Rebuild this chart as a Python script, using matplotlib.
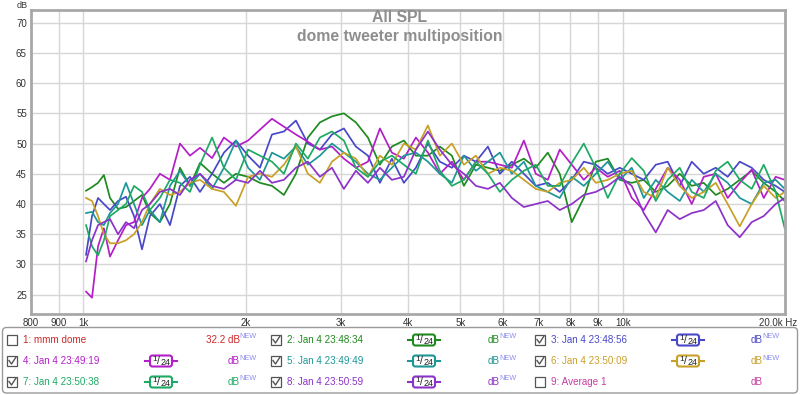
import numpy as np
import matplotlib.pyplot as plt
from matplotlib.patches import Rectangle, FancyBboxPatch

plt.rcParams['font.family'] = ['Liberation Sans', 'DejaVu Sans']

# frequency points (Hz)
freq = [1012, 1038, 1065, 1092, 1121, 1160, 1200, 1242, 1285, 1329,
        1387, 1448, 1511, 1577, 1646, 1733, 1823, 1919, 2021, 2126,
        2238, 2355, 2479, 2609, 2746, 2891, 3042, 3202, 3371, 3548,
        3734, 3930, 4137, 4355, 4583, 4824, 5078, 5345, 5626, 5921,
        6232, 6560, 6902, 7265, 7646, 8048, 8472, 8917, 9385, 9878,
        10397, 10944, 11519, 12122, 12761, 13431, 14137, 14881, 15659, 16487,
        17350, 18263, 19222, 19973]

spl_2 = [42.2, 42.8, 43.5, 44.8, 41.0, 39.2, 39.5, 40.5, 41.5, 38.5,
         37.0, 40.0, 46.0, 43.0, 46.8, 45.0, 43.5, 45.0, 44.5, 43.5,
         43.0, 41.5, 45.0, 51.0, 53.5, 54.5, 55.0, 53.5, 51.0, 46.5,
         49.5, 50.5, 48.0, 48.0, 49.5, 48.0, 43.0, 46.5, 46.0, 45.5,
         46.5, 47.5, 46.0, 48.5, 45.0, 37.0, 41.0, 47.0, 47.5, 44.0,
         43.5, 44.0, 42.0, 43.0, 45.0, 43.0, 43.5, 41.5, 42.5, 44.0,
         45.5, 43.5, 42.0, 40.5]
spl_3 = [31.6, 38.0, 41.0, 40.0, 39.0, 40.5, 41.2, 38.0, 32.5, 38.0,
         40.0, 36.5, 43.0, 44.5, 42.0, 45.0, 48.5, 50.5, 48.0, 46.0,
         51.5, 52.0, 53.8, 50.0, 49.0, 51.5, 52.5, 49.5, 48.0, 43.5,
         47.5, 43.5, 46.0, 50.0, 47.0, 46.0, 48.0, 47.0, 49.5, 45.0,
         47.0, 45.0, 43.0, 43.5, 42.0, 44.0, 47.0, 46.5, 45.0, 46.0,
         45.0, 44.0, 46.5, 47.0, 43.0, 47.0, 45.0, 46.0, 44.5, 47.0,
         46.0, 44.0, 43.0, 42.0]
spl_4 = [25.5, 24.5, 33.0, 36.0, 31.3, 34.0, 36.5, 37.0, 41.0, 42.5,
         45.0, 44.0, 50.0, 48.0, 49.3, 47.6, 51.0, 49.5, 50.5, 52.3,
         54.1, 52.8, 51.5, 50.3, 49.0, 49.5, 47.5, 46.0, 47.0, 52.5,
         48.5, 47.5, 51.0, 48.5, 45.0, 47.0, 44.0, 47.0, 47.0, 46.5,
         46.0, 50.5, 45.0, 44.0, 49.0, 46.5, 44.0, 46.0, 44.5, 45.5,
         41.0, 39.0, 42.5, 46.0, 44.0, 40.0, 44.5, 45.0, 41.0, 43.5,
         45.7, 41.0, 44.5, 44.0]
spl_5 = [38.5, 38.7, 37.0, 36.5, 38.5, 40.0, 43.5, 40.0, 36.5, 39.0,
         37.0, 43.0, 45.5, 43.0, 45.0, 42.5, 46.0, 50.5, 46.0, 44.0,
         48.5, 47.5, 49.5, 46.5, 48.0, 50.0, 48.5, 47.0, 45.0, 44.0,
         46.0, 48.0, 48.5, 47.0, 45.0, 43.5, 48.0, 45.5, 47.0, 48.5,
         45.0, 47.0, 43.0, 42.0, 41.0, 44.5, 43.0, 45.0, 47.0, 44.0,
         46.0, 41.0, 44.0, 42.0, 40.5, 44.0, 42.0, 45.0, 43.5, 41.0,
         40.0, 43.5, 44.0, 42.5]
spl_6 = [41.0, 40.5, 38.0, 35.0, 33.5, 33.5, 34.0, 35.0, 37.0, 40.0,
         42.5, 41.5, 42.0, 43.5, 44.0, 42.5, 42.0, 39.7, 44.5, 45.0,
         44.5, 46.5, 49.5, 45.0, 43.5, 47.0, 48.5, 47.5, 44.5, 48.0,
         46.5, 50.0, 49.0, 53.0, 48.0, 50.0, 46.5, 48.0, 45.0, 46.0,
         45.5, 44.0, 42.5, 42.0, 43.5, 44.0, 46.0, 43.5, 44.0, 45.0,
         45.5, 42.0, 41.0, 46.0, 43.0, 41.0, 42.0, 43.5, 40.0, 36.3,
         40.0, 43.0, 41.0, 42.0]
spl_7 = [36.5, 33.0, 31.5, 34.0, 38.0, 39.0, 40.0, 43.0, 42.0, 39.0,
         41.0, 44.0, 43.5, 42.0, 46.5, 51.0, 46.0, 44.0, 49.0, 48.0,
         47.0, 45.0, 50.0, 47.5, 51.0, 52.0, 50.5, 46.0, 44.5, 47.0,
         48.0, 46.5, 45.0, 50.5, 45.5, 43.0, 44.0, 47.0, 45.0, 42.0,
         44.0, 45.5, 46.5, 43.0, 43.0, 46.8, 50.0, 46.0, 41.0, 45.0,
         47.6, 45.5, 40.5, 44.0, 46.0, 42.0, 41.0, 45.5, 47.0, 44.0,
         42.5, 46.5, 42.0, 36.0]
spl_8 = [30.5, 34.0, 36.5, 37.0, 37.5, 35.0, 37.0, 36.0, 39.0, 40.0,
         42.0, 42.5, 41.5, 44.0, 45.0, 43.0, 42.5, 44.0, 43.5, 45.5,
         43.5, 44.0, 46.0, 47.0, 44.5, 46.0, 42.5, 45.5, 43.5, 46.0,
         44.0, 44.5, 49.0, 52.0, 49.0, 46.5, 45.0, 43.0, 42.5, 43.5,
         41.0, 39.5, 40.0, 40.5, 39.0, 40.0, 41.5, 42.0, 43.0, 44.5,
         43.0, 38.5, 35.3, 39.0, 37.5, 38.5, 39.0, 40.5, 36.5, 34.5,
         37.0, 38.0, 40.0, 41.0]

series = [spl_2, spl_3, spl_4, spl_5, spl_6, spl_7, spl_8]
colors = ['#1f8a1f', '#4848c8', '#b41ec8', '#1e9696', '#c8a028', '#1eaa64', '#8c32c8']

xticks = [800, 900, 1000, 2000, 3000, 4000, 5000, 6000, 7000, 8000, 9000, 10000, 20000]
xticklabels = ['800', '900', '1k', '2k', '3k', '4k', '5k', '6k', '7k', '8k', '9k', '10k', '']
yticks = [25, 30, 35, 40, 45, 50, 55, 60, 65, 70]

legend_labels = ['1: mmm dome', '2: Jan 4 23:48:34', '3: Jan 4 23:48:56',
                 '4: Jan 4 23:49:19', '5: Jan 4 23:49:49', '6: Jan 4 23:50:09',
                 '7: Jan 4 23:50:38', '8: Jan 4 23:50:59', '9: Average 1']
legend_colors = ['#cc2828', '#1f8a1f', '#4848c8', '#b41ec8', '#1e9696',
                 '#c8a028', '#1eaa64', '#8c32c8', '#c83ca0']
legend_checked = [False, True, True, True, True, True, True, True, False]
legend_badge = [False, True, True, True, True, True, True, True, False]
legend_value = ['32.2 dB', 'dB', 'dB', 'dB', 'dB', 'dB', 'dB', 'dB', 'dB']
legend_new = [True, True, True, True, True, True, True, True, False]

fig = plt.figure(figsize=(8, 3.95), dpi=100, facecolor='w')
W, H = 800, 395
ax = fig.add_axes([31 / W, 1 - 314 / H, (785 - 31) / W, (314 - 10) / H])

for s, c in zip(series, colors):
    ax.semilogx(freq, s, color=c, lw=1.25, solid_joinstyle='round')

ax.set_xlim(800, 20000)
ax.set_ylim(21.8, 72.1)
ax.set_xticks(xticks)
ax.set_xticklabels(xticklabels)
ax.minorticks_off()
ax.set_yticks(yticks)
ax.tick_params(length=0, labelsize=7, colors='#333333', pad=3)
ax.grid(True, color='#d6d6d6', lw=1)
ax.set_axisbelow(True)
for sp in ax.spines.values():
    sp.set_color('#a8a8a8')
    sp.set_linewidth(2)

# overlay in pixel coordinates for title, unit labels and legend panel
ov = fig.add_axes([0, 0, 1, 1])
ov.set_xlim(0, W)
ov.set_ylim(H, 0)
ov.axis('off')
ov.patch.set_visible(False)

ov.text(400, 18, 'All SPL', ha='center', va='center', fontsize=11.3,
        fontweight='bold', color='#8e8e8e')
ov.text(400, 36, 'dome tweeter multiposition', ha='center', va='center',
        fontsize=11.3, fontweight='bold', color='#8e8e8e')
ov.text(22, 5, 'dB', ha='center', va='center', fontsize=6.5, color='#333333')
ov.text(797, 322.5, '20.0k Hz', ha='right', va='center', fontsize=7, color='#333333')

ov.add_patch(FancyBboxPatch((2.5, 327.5), 795, 65.5,
                            boxstyle='round,pad=0,rounding_size=4',
                            fc='white', ec='#9a9a9a', lw=1))

col_x = [7, 271, 535]
row_y = [340, 361, 382]
badge_cx = [161, 424, 688]
val_right = [240, 500, 763]

for i, lab in enumerate(legend_labels):
    r, c = divmod(i, 3)
    x0, cy = col_x[c], row_y[r]
    col = legend_colors[i]
    ov.add_patch(Rectangle((x0, cy - 5), 10, 10, fc='white', ec='#555555', lw=0.9))
    if legend_checked[i]:
        ov.plot([x0 + 2, x0 + 4.5, x0 + 9], [cy - 0.5, cy + 3, cy - 4],
                color='#555555', lw=1)
    ov.text(x0 + 16, cy, lab, ha='left', va='center', fontsize=7.1, color=col)
    if legend_badge[i]:
        bx = badge_cx[c]
        ov.plot([bx - 16, bx - 11], [cy, cy], color=col, lw=1.5)
        ov.plot([bx + 11, bx + 16], [cy, cy], color=col, lw=1.5)
        ov.add_patch(FancyBboxPatch((bx - 11, cy - 5.5), 22, 11,
                                    boxstyle='round,pad=0,rounding_size=2.5',
                                    fc='white', ec=col, lw=1.5))
        ov.text(bx - 6.2, cy - 1.2, '1', ha='center', va='center',
                fontsize=6, color='#222222')
        ov.text(bx - 2.8, cy, '/', ha='center', va='center',
                fontsize=7.5, color='#222222')
        ov.text(bx + 4.2, cy + 1.5, '24', ha='center', va='center',
                fontsize=6.5, color='#222222')
    ov.text(val_right[c], cy, legend_value[i], ha='right', va='center',
            fontsize=7.1, color=col)
    if legend_new[i]:
        ov.text(val_right[c] - 0.8, cy - 3, 'NEW', ha='left', va='center',
                fontsize=5.3, color='#8c8cf0')

fig.savefig('out.png', dpi=100)
